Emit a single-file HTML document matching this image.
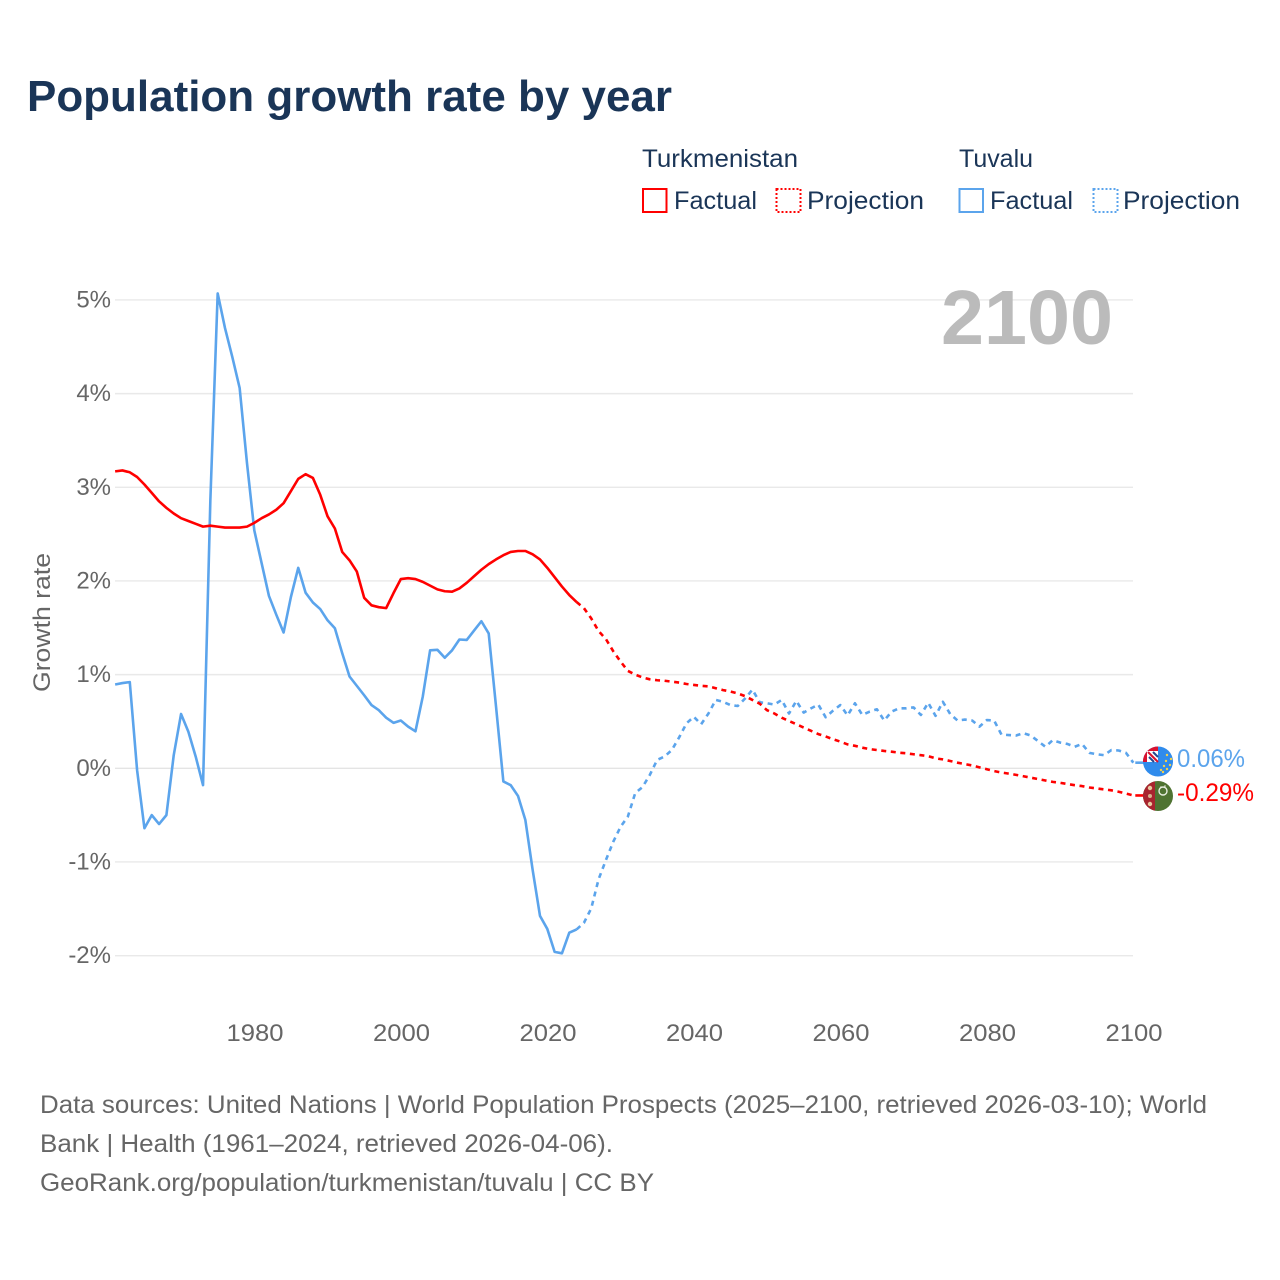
<!DOCTYPE html>
<html lang="en">
<head>
<meta charset="utf-8">
<title>Population growth rate by year</title>
<style>
html,body{margin:0;padding:0;background:#fff;}
svg{display:block;font-family:"Liberation Sans",sans-serif;}
</style>
</head>
<body>
<svg id="chart" xmlns="http://www.w3.org/2000/svg" width="1280" height="1280" viewBox="0 0 1280 1280">
  <rect width="1280" height="1280" fill="#fff"/>
  <text x="27" y="111" font-size="44" font-weight="700" fill="#1a3557" textLength="645" lengthAdjust="spacingAndGlyphs">Population growth rate by year</text>

  <g font-size="25" fill="#1a3557">
    <text x="642" y="167" textLength="156" lengthAdjust="spacingAndGlyphs">Turkmenistan</text>
    <text x="959" y="167" textLength="74" lengthAdjust="spacingAndGlyphs">Tuvalu</text>
    <rect x="643" y="189" width="23.5" height="23" fill="none" stroke="#ff0000" stroke-width="2"/>
    <text x="674" y="209" textLength="83" lengthAdjust="spacingAndGlyphs">Factual</text>
    <rect x="776.5" y="189" width="24" height="23" fill="none" stroke="#ff0000" stroke-width="2" stroke-dasharray="2 2"/>
    <text x="807" y="209" textLength="117" lengthAdjust="spacingAndGlyphs">Projection</text>
    <rect x="959.5" y="189" width="23.5" height="23" fill="none" stroke="#5ba4ec" stroke-width="2"/>
    <text x="990" y="209" textLength="83" lengthAdjust="spacingAndGlyphs">Factual</text>
    <rect x="1093.5" y="189" width="24" height="23" fill="none" stroke="#5ba4ec" stroke-width="2" stroke-dasharray="2 2"/>
    <text x="1123" y="209" textLength="117" lengthAdjust="spacingAndGlyphs">Projection</text>
  </g>

  <g id="grid"></g>
  <g id="yticks"></g>
  <g id="xticks"></g>

  <text x="941" y="344" font-size="77" font-weight="700" fill="#bbbbbb" textLength="172" lengthAdjust="spacingAndGlyphs">2100</text>
  <text transform="translate(50,692) rotate(-90)" font-size="24" fill="#666666" textLength="139" lengthAdjust="spacingAndGlyphs">Growth rate</text>

  <g id="series"></g>

  <g>
    <clipPath id="clipTv"><circle cx="1158" cy="761.5" r="15"/></clipPath>
    <circle cx="1158" cy="761.5" r="15" fill="#2f8bec"/>
    <g clip-path="url(#clipTv)">
      <rect x="1143" y="746" width="15" height="16" fill="#d9112f"/>
      <rect x="1147" y="751" width="11" height="11" fill="#ffffff"/>
      <path d="M1148 752 L1158 762" stroke="#d9112f" stroke-width="2"/>
      <path d="M1149 757 L1154 762 M1153 752 L1158 757" stroke="#24478f" stroke-width="2"/>
      <g fill="#f2d04a">
        <circle cx="1167" cy="755" r="1.2"/><circle cx="1171" cy="759" r="1.2"/><circle cx="1166" cy="761" r="1.2"/>
        <circle cx="1170" cy="765" r="1.2"/><circle cx="1164" cy="766" r="1.2"/><circle cx="1167" cy="769" r="1.2"/>
        <circle cx="1161" cy="770" r="1.2"/><circle cx="1163" cy="772" r="1.2"/>
      </g>
    </g>
  </g>
  <g>
    <clipPath id="clipTm"><circle cx="1158" cy="796" r="15"/></clipPath>
    <circle cx="1158" cy="796" r="15" fill="#4f7332"/>
    <g clip-path="url(#clipTm)">
      <rect x="1143" y="780" width="12" height="32" fill="#a8242f"/>
      <circle cx="1150" cy="788" r="2.2" fill="#e9c9a0"/>
      <circle cx="1150" cy="796" r="2" fill="#d8b08a"/>
      <circle cx="1150" cy="804" r="2.2" fill="#e9c9a0"/>
      <circle cx="1163" cy="791" r="4" fill="none" stroke="#e8eee0" stroke-width="1.4"/>
      <circle cx="1161" cy="787" r=".8" fill="#e8eee0"/><circle cx="1165" cy="786" r=".8" fill="#e8eee0"/>
    </g>
  </g>
  <text id="labelTv" x="1177" y="767" font-size="25" fill="#5ba4ec" textLength="68" lengthAdjust="spacingAndGlyphs">0.06%</text>
  <text id="labelTm" x="1177" y="801" font-size="25" fill="#ff0000" textLength="77" lengthAdjust="spacingAndGlyphs">-0.29%</text>

  <g font-size="25" fill="#666666">
    <text x="40" y="1113" textLength="1167" lengthAdjust="spacingAndGlyphs">Data sources: United Nations | World Population Prospects (2025–2100, retrieved 2026-03-10); World</text>
    <text x="40" y="1152" textLength="573" lengthAdjust="spacingAndGlyphs">Bank | Health (1961–2024, retrieved 2026-04-06).</text>
    <text x="40" y="1191" textLength="614" lengthAdjust="spacingAndGlyphs">GeoRank.org/population/turkmenistan/tuvalu | CC BY</text>
  </g>
</svg>
<script>
const yTickValues = [5, 4, 3, 2, 1, 0, -1, -2];
const xTickYears = [1980, 2000, 2020, 2040, 2060, 2080, 2100];
const factualStartYear = 1961;
const projectionStartYear = 2025;

const turkmenistanFactual = [
  3.17,3.18,3.16,3.11,3.03,2.94,2.85,2.78,2.72,2.67,
  2.64,2.61,2.58,2.59,2.58,2.57,2.57,2.57,2.58,2.62,
  2.67,2.71,2.76,2.83,2.96,3.09,3.14,3.10,2.92,2.69,
  2.56,2.31,2.22,2.10,1.82,1.74,1.72,1.71,1.87,2.02,
  2.03,2.02,1.99,1.95,1.91,1.89,1.885,1.92,1.98,2.05,
  2.12,2.18,2.23,2.275,2.31,2.32,2.32,2.285,2.23,2.14,
  2.04,1.94,1.85,1.775
];
const turkmenistanProjection = [
  1.71,1.60,1.465,1.38,1.25,1.14,
  1.04,1.00,0.97,0.95,0.94,0.935,0.925,0.915,0.90,0.89,
  0.88,0.875,0.855,0.835,0.82,0.80,0.77,0.73,0.69,0.62,
  0.585,0.54,0.505,0.47,0.435,0.40,0.365,0.34,0.31,0.285,
  0.255,0.24,0.22,0.205,0.195,0.185,0.177,0.167,0.16,0.15,
  0.14,0.13,0.106,0.095,0.078,0.06,0.045,0.03,0.01,-0.01,
  -0.03,-0.045,-0.057,-0.07,-0.085,-0.10,-0.115,-0.13,-0.145,-0.155,
  -0.168,-0.18,-0.19,-0.205,-0.215,-0.225,-0.235,-0.25,-0.27,-0.29
];
const tuvaluFactual = [
  0.895,0.91,0.92,-0.02,-0.64,-0.50,-0.595,-0.50,0.14,0.58,
  0.39,0.125,-0.18,2.86,5.07,4.70,4.39,4.06,3.26,2.54,
  2.19,1.84,1.64,1.45,1.83,2.14,1.875,1.77,1.70,1.58,
  1.495,1.23,0.98,0.88,0.78,0.675,0.62,0.54,0.485,0.51,
  0.445,0.395,0.765,1.26,1.265,1.18,1.26,1.375,1.37,1.47,
  1.57,1.44,0.66,-0.14,-0.18,-0.295,-0.55,-1.085,-1.575,-1.715,
  -1.96,-1.975,-1.755,-1.72
];
const tuvaluProjection = [
  -1.65,-1.495,-1.185,-0.98,-0.785,-0.625,
  -0.515,-0.265,-0.20,-0.07,0.09,0.125,0.195,0.33,0.48,0.55,
  0.47,0.585,0.73,0.71,0.675,0.665,0.745,0.84,0.705,0.694,
  0.68,0.73,0.585,0.72,0.595,0.64,0.68,0.545,0.615,0.675,
  0.565,0.694,0.57,0.605,0.63,0.51,0.605,0.64,0.64,0.65,
  0.57,0.70,0.56,0.71,0.58,0.51,0.52,0.51,0.445,0.515,
  0.51,0.36,0.355,0.35,0.375,0.35,0.29,0.23,0.30,0.275,
  0.26,0.23,0.26,0.165,0.15,0.14,0.195,0.19,0.165,0.06
];

const NS = 'http://www.w3.org/2000/svg';
function xScale(year) { return 254.3 + (year - 1980) * 7.325; }
function yScale(value) { return 768.3 - value * 93.67; }
function make(tag, attrs, parent) {
  const el = document.createElementNS(NS, tag);
  for (const k in attrs) el.setAttribute(k, attrs[k]);
  parent.appendChild(el);
  return el;
}
const gridGroup = document.getElementById('grid');
const yTickGroup = document.getElementById('yticks');
const xTickGroup = document.getElementById('xticks');
const seriesGroup = document.getElementById('series');

yTickValues.forEach(function (v) {
  const line = make('line', {x1: 115, x2: 1133, y1: yScale(v), y2: yScale(v), stroke: v === 0 ? '#e4e4e4' : '#e9e9e9', 'stroke-width': 1.4}, gridGroup);
  
  
  const label = make('text', {x: 111, y: yScale(v) + 7.5, 'text-anchor': 'end', 'font-size': 24, fill: '#666666'}, yTickGroup);
  label.textContent = v + '%';
  
  
});
xTickYears.forEach(function (year) {
  const label = make('text', {x: xScale(year) - 27.8, y: 1041, 'font-size': 24, fill: '#666666', textLength: 57, lengthAdjust: 'spacingAndGlyphs'}, xTickGroup);
  label.textContent = String(year);
  
  
});

function pathFrom(values, startYear, prefix) {
  let pts = prefix ? [prefix] : [];
  values.forEach(function (v, i) {
    pts.push(xScale(startYear + i).toFixed(2) + ',' + yScale(v).toFixed(2));
  });
  return 'M' + pts.join(' L');
}
function lastPoint(values, startYear) {
  const i = values.length - 1;
  return xScale(startYear + i).toFixed(2) + ',' + yScale(values[i]).toFixed(2);
}
function drawPath(d, color, dashed) {
  const attrs = {d: d, fill: 'none', stroke: color, 'stroke-width': 2.6, 'stroke-linejoin': 'round'};
  if (dashed) attrs['stroke-dasharray'] = '5 4.6';
  return make('path', attrs, seriesGroup);
}

const tuvaluFactualLine = drawPath(pathFrom(tuvaluFactual, factualStartYear), '#5ba4ec', false);


const tuvaluProjectionLine = drawPath(pathFrom(tuvaluProjection, projectionStartYear, lastPoint(tuvaluFactual, factualStartYear)), '#5ba4ec', true);


const turkmenistanFactualLine = drawPath(pathFrom(turkmenistanFactual, factualStartYear), '#ff0000', false);


const turkmenistanProjectionLine = drawPath(pathFrom(turkmenistanProjection, projectionStartYear, lastPoint(turkmenistanFactual, factualStartYear)), '#ff0000', true);



const tvEnd = tuvaluProjection[tuvaluProjection.length - 1];
const tmEnd = turkmenistanProjection[turkmenistanProjection.length - 1];
const tvConnector = drawPath('M' + (xScale(2100) + 2) + ',' + yScale(tvEnd) + ' L1144,' + yScale(tvEnd), '#5ba4ec', false);


const tmConnector = drawPath('M' + (xScale(2100) + 2) + ',' + yScale(tmEnd) + ' L1144,' + yScale(tmEnd), '#ff0000', false);


</script>
</body>
</html>
